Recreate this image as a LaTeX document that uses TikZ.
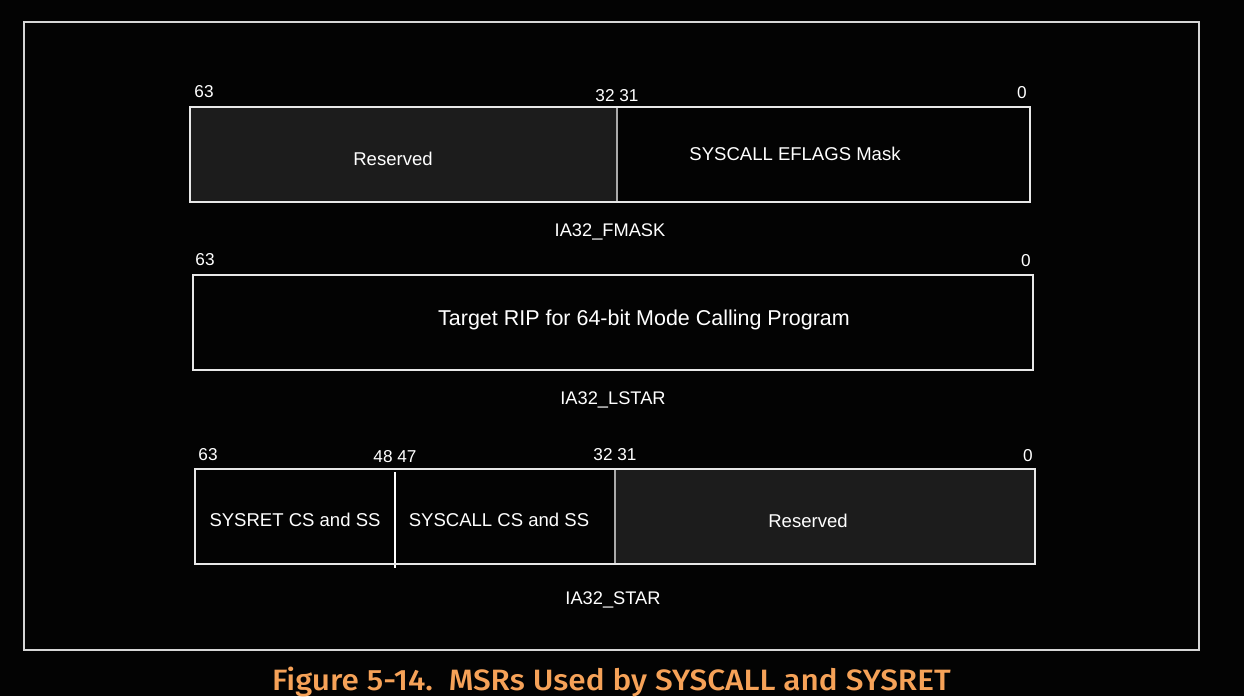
\documentclass[tikz,border=0pt]{standalone}
\usepackage{fontspec}
\setmainfont{Liberation Sans}
\newfontfamily\capfont{Fira Sans Medium}
\usetikzlibrary{positioning}
\definecolor{bg}{RGB}{3,3,3}
\definecolor{frame}{RGB}{214,214,214}
\definecolor{edge}{RGB}{232,232,232}
\definecolor{resfill}{RGB}{28,28,28}
\definecolor{divline}{RGB}{170,170,170}
\definecolor{capcol}{RGB}{246,162,88}
\begin{document}
\begin{tikzpicture}[x=0.75pt,y=-0.75pt,
  every node/.style={inner sep=0pt,outer sep=0pt,text=white},
  fieldtext/.style={font=\fontsize{13.9pt}{16pt}\selectfont},
  bigtext/.style={font=\fontsize{16.1pt}{19pt}\selectfont},
  bitnum/.style={font=\fontsize{12.9pt}{15pt}\selectfont},
  regname/.style={font=\fontsize{13.7pt}{16pt}\selectfont},
  regbox/.style={draw=edge,line width=1.5pt},
  resbox/.style={fill=resfill},
  divider/.style={draw=divline,line width=0.8pt}]
% page and outer frame
\fill[bg] (0,0) rectangle (1244,696);
\useasboundingbox (0,0) rectangle (1244,696);
\draw[frame,line width=1.6pt] (24,22) rectangle (1199,650);

% IA32_FMASK
\fill[resbox] (190,107) rectangle (617,202);
\draw[divider] (617,107) -- (617,202);
\draw[regbox] (190,107) rectangle (1030,202);
\node[bitnum] (f63) at (204,92) {63};
\node[bitnum] (f3231) at (617,96) {32 31};
\node[bitnum] (f0) at (1022,93) {0};
\node[fieldtext] (fres) at (393,159) {Reserved};
\node[fieldtext] (fmask) at (795,154) {SYSCALL EFLAGS Mask};
\node[regname] (fname) at (610,231.5) {IA32\_FMASK};

% IA32_LSTAR
\draw[regbox] (193,275) rectangle (1033,370);
\node[bitnum] (l63) at (205,260) {63};
\node[bitnum] (l0) at (1026,261) {0};
\node[bigtext] (lrip) at (644,320) {Target RIP for 64-bit Mode Calling Program};
\node[regname] (lname) at (613,399.5) {IA32\_LSTAR};

% IA32_STAR
\fill[resbox] (615,469) rectangle (1035,564);
\draw[divider] (615,469) -- (615,564);
\draw[white,line width=0.8pt] (395,472) -- (395,568);
\draw[regbox] (195,469) rectangle (1035,564);
\node[bitnum] (s63) at (208,455) {63};
\node[bitnum] (s4847) at (395,457) {48 47};
\node[bitnum] (s3231) at (615,455) {32 31};
\node[bitnum] (s0) at (1028,456) {0};
\node[fieldtext] (sret) at (295,519.5) {SYSRET CS and SS};
\node[fieldtext] (scall) at (499,519.5) {SYSCALL CS and SS};
\node[fieldtext] (sres) at (808,521) {Reserved};
\node[regname] (sname) at (613,599.5) {IA32\_STAR};

% caption
\node[anchor=base west,text=capcol] (caption) at (272,690)
  {\resizebox{509pt}{17.6pt}{\capfont Figure 5-14.\ \ MSRs Used by SYSCALL and SYSRET}};
\end{tikzpicture}
\end{document}
